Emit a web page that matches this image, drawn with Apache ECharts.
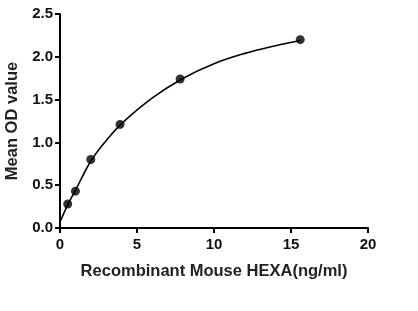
<!DOCTYPE html>
<html><head><meta charset="utf-8">
<script src="https://cdn.jsdelivr.net/npm/echarts@6/dist/echarts.min.js"></script>
<style>html,body{margin:0;padding:0;background:#fff}#c{width:418px;height:311px}</style>
</head><body><div id="c"></div>
<script>
var concentrations = [0.5, 1, 2, 3.9, 7.8, 15.6];
var odValues = [0.28, 0.43, 0.80, 1.21, 1.74, 2.20];
var curveX = [0, 0.5, 1, 2, 3, 4, 6, 8, 10, 12, 14, 15.6];
var curveY = [0.07, 0.27, 0.44, 0.78, 1.02, 1.22, 1.52, 1.75, 1.92, 2.04, 2.13, 2.19];
var xTicks = [0, 5, 10, 15, 20];
var yTicks = [0.0, 0.5, 1.0, 1.5, 2.0, 2.5];

var chart = echarts.init(document.getElementById('c'));
var font = 'Liberation Sans, Arial, sans-serif';
chart.setOption({
  animation: false,
  grid: {left: 60, right: 50, top: 14, bottom: 83, containLabel: false, outerBoundsMode: 'none'},
  xAxis: {
    type: 'value', min: xTicks[0], max: xTicks[xTicks.length-1], interval: 5,
    name: 'Recombinant Mouse HEXA(ng/ml)', nameLocation: 'middle', nameGap: 35,
    nameTextStyle: {color: '#222', fontWeight: 'bold', fontSize: 16.5, fontFamily: font},
    axisLine: {lineStyle: {color: '#000', width: 2}},
    axisTick: {length: 5, lineStyle: {color: '#000', width: 2}},
    axisLabel: {color: '#111', fontWeight: 'bold', fontSize: 15, fontFamily: font, margin: 9,
      formatter: function(v){return String(v);}},
    splitLine: {show: false}
  },
  yAxis: {
    type: 'value', min: yTicks[0], max: yTicks[yTicks.length-1], interval: 0.5,
    name: 'Mean OD value', nameLocation: 'middle', nameGap: 38,
    nameTextStyle: {color: '#222', fontWeight: 'bold', fontSize: 16.5, fontFamily: font},
    axisLine: {lineStyle: {color: '#000', width: 2}},
    axisTick: {length: 5, lineStyle: {color: '#000', width: 2}},
    axisLabel: {color: '#111', fontWeight: 'bold', fontSize: 15, fontFamily: font, margin: 7,
      formatter: function(v){return v.toFixed(1);}},
    splitLine: {show: false}
  },
  series: [
    {type: 'line', data: curveX.map(function(x,i){return [x, curveY[i]];}), smooth: 0.4,
     showSymbol: false, lineStyle: {color: '#000', width: 1.6}},
    {type: 'scatter', data: concentrations.map(function(x,i){return [x, odValues[i]];}),
     symbolSize: 9, itemStyle: {color: '#000'}}
  ]
});
</script></body></html>
